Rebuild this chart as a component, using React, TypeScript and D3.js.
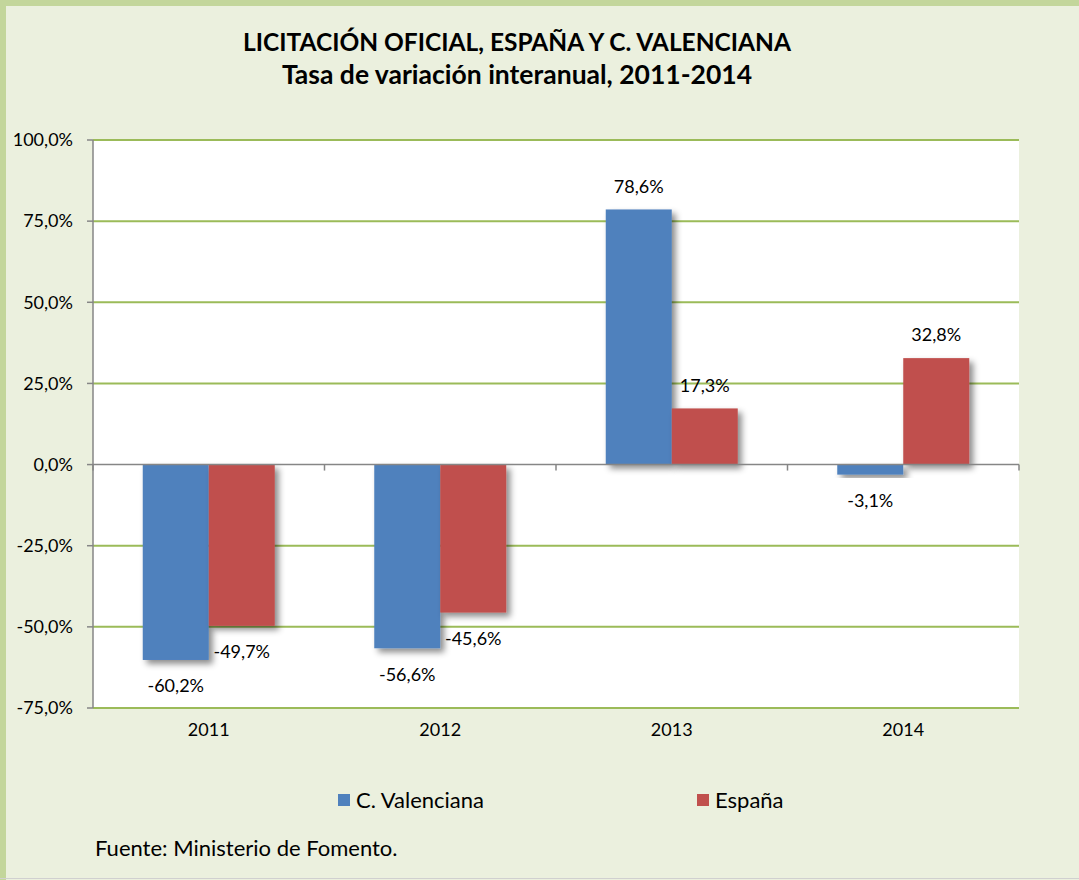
import React from "react";
import * as d3 from "d3";

const categories = ["2011", "2012", "2013", "2014"];
const seriesNames = ["C. Valenciana", "España"];
const valenciana = [-60.2, -56.6, 78.6, -3.1];
const espana = [-49.7, -45.6, 17.3, 32.8];
const yTicks = [-75, -50, -25, 0, 25, 50, 75, 100];
const titleLines = ["LICITACIÓN OFICIAL, ESPAÑA Y C. VALENCIANA", "Tasa de variación interanual, 2011-2014"];
const source = "Fuente: Ministerio de Fomento.";

const W = 1079;
const H = 880;
const FONT = "Lato, 'Open Sans', sans-serif";
const COLORS = ["#4f81bd", "#c0504d"];

const fmt = (v: number) => v.toFixed(1).replace(".", ",") + "%";

export default function App() {
  const left = 93, right = 1019, top = 140, bottom = 708;
  const x = d3.scaleBand<string>().domain(categories).range([left, right]).paddingInner(0).paddingOuter(0);
  const y = d3.scaleLinear().domain([-75, 100]).range([bottom, top]);
  const groupW = 132;
  const xs = d3.scaleBand<string>().domain(seriesNames).range([0, groupW]).padding(0);
  const data = [valenciana, espana];

  return (
    <svg width={W} height={H} style={{ position: "absolute", left: 0, top: 0 }} fontFamily={FONT}>
      <defs>
        <filter id="sh" x="-20%" y="-20%" width="150%" height="150%">
          <feDropShadow dx="4" dy="4" stdDeviation="3" floodColor="#000" floodOpacity="0.45" />
        </filter>
      </defs>
      <rect x={0} y={0} width={W} height={H} fill="#ebf0de" />
      <rect x={0} y={0} width={W} height={6} fill="#c3d69b" />
      <rect x={0} y={0} width={6} height={H} fill="#c3d69b" />
      <line x1={0} x2={W} y1={878.5} y2={878.5} stroke="#d0d0d0" strokeWidth={1} />

      {titleLines.map((t, i) => (
        <text key={i} x={517} y={51 + i * 33} textAnchor="middle" fontWeight="bold" fontSize={i === 0 ? 24.5 : 26.5} fill="#000">{t}</text>
      ))}

      <rect x={left} y={top} width={right - left} height={bottom - top} fill="#fff" />

      {yTicks.filter(t => t !== 0).map(t => (
        <line key={t} x1={left} x2={right} y1={y(t)} y2={y(t)} stroke="#9bbb59" strokeWidth={2} />
      ))}

      {/* y axis */}
      <line x1={left} x2={left} y1={top} y2={bottom} stroke="#868686" strokeWidth={1.5} />
      {yTicks.map(t => (
        <g key={t}>
          <line x1={left - 6} x2={left} y1={y(t)} y2={y(t)} stroke="#868686" strokeWidth={1.5} />
          <text x={left - 20} y={y(t)} dy="0.35em" textAnchor="end" fontSize={18} fill="#000">{fmt(t)}</text>
        </g>
      ))}

      {/* bars */}
      {categories.map((c, ci) => {
        const gx = (x(c) as number) + (x.bandwidth() - groupW) / 2;
        return (
          <g key={c}>
            {seriesNames.map((s, si) => {
              const v = data[si][ci];
              const bx = gx + (xs(s) as number);
              const y0 = y(Math.max(0, v));
              const h = Math.abs(y(v) - y(0));
              return (
                <rect key={s} x={bx} y={y0} width={xs.bandwidth()} height={h} fill={COLORS[si]} filter="url(#sh)" />
              );
            })}
          </g>
        );
      })}

      {/* x axis */}
      <line x1={left} x2={right} y1={y(0)} y2={y(0)} stroke="#868686" strokeWidth={1.5} />
      {[...categories.map(c => x(c) as number), right].map((px, i) => (
        <line key={i} x1={px} x2={px} y1={y(0)} y2={y(0) + 6} stroke="#868686" strokeWidth={1.5} />
      ))}
      {categories.map(c => (
        <text key={c} x={(x(c) as number) + x.bandwidth() / 2} y={735} dy="0.05em" textAnchor="middle" fontSize={18} fill="#000">{c}</text>
      ))}

      {/* data labels */}
      {categories.map((c, ci) => {
        const gx = (x(c) as number) + (x.bandwidth() - groupW) / 2;
        return seriesNames.map((s, si) => {
          const v = data[si][ci];
          const cx = gx + (xs(s) as number) + xs.bandwidth() / 2;
          const ly = v >= 0 ? y(v) - 23 : y(v) + 26;
          return (
            <text key={c + s} x={cx} y={ly} dy="0.35em" textAnchor="middle" fontSize={18} fill="#000">{fmt(v)}</text>
          );
        });
      })}

      {/* legend */}
      {seriesNames.map((s, i) => {
        const lx = i === 0 ? 338 : 697;
        return (
          <g key={s}>
            <rect x={lx} y={794} width={12} height={12} fill={COLORS[i]} />
            <text x={lx + 18} y={800} dy="0.35em" fontSize={22} fill="#000">{s}</text>
          </g>
        );
      })}

      <text x={95} y={848} dy="0.35em" fontSize={22} fill="#000">{source}</text>
    </svg>
  );
}
